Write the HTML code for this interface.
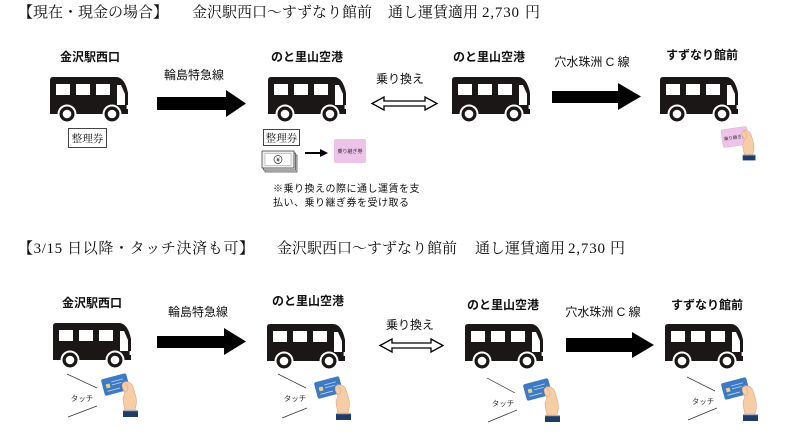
<!DOCTYPE html>
<html><head><meta charset="utf-8"><style>
html,body{margin:0;padding:0;background:#fff;}
svg{display:block;}
.t{font-family:"Liberation Serif","Noto Serif CJK SC",serif;font-size:15px;fill:#111;}
.s{font-family:"Liberation Sans","Noto Sans CJK JP",sans-serif;font-size:12px;fill:#111;}
.b{font-weight:bold;}
.n{font-family:"Liberation Sans","Noto Sans CJK JP",sans-serif;font-size:10px;fill:#111;letter-spacing:0.5px;}
.k{font-family:"Liberation Serif","Noto Serif CJK SC",serif;font-size:10.5px;fill:#111;}
.tc{font-family:"Liberation Sans","Noto Sans CJK JP",sans-serif;font-size:7.5px;fill:#333;}
</style></head><body>
<svg width="805" height="447" viewBox="0 0 805 447" xmlns="http://www.w3.org/2000/svg">
<defs>
<g id="bus">
 <path d="M0,3 Q0,0 3,0 L66,0 C72,0 76,6 78,16 L78,37 L0,37 Z" fill="#1b1717"/>
 <rect x="6" y="7" width="14" height="11" fill="#fff"/>
 <rect x="26" y="7" width="14" height="11" fill="#fff"/>
 <rect x="46" y="7" width="14" height="11" fill="#fff"/>
 <path d="M67,8 L71,8 L75,17 L75,28 L67,28 Z" fill="#fff"/>
 <rect x="76.6" y="28" width="1.4" height="4" fill="#fff"/>
 <circle cx="17" cy="37" r="9.5" fill="#fff"/>
 <circle cx="62" cy="37" r="9.5" fill="#fff"/>
 <circle cx="17" cy="37" r="7.5" fill="#1b1717"/>
 <circle cx="62" cy="37" r="7.5" fill="#1b1717"/>
 <circle cx="17" cy="37" r="4.3" fill="#fff"/>
 <circle cx="62" cy="37" r="4.3" fill="#fff"/>
</g>
<g id="hand">
 <path d="M23,9 C27,8 31,10 32,14 L35,24 C36,29 35,33 34,37 L24,37 C23,33 22,29 22,25 L24,20 C22,18 21,14 23,9 Z" fill="#f6cda5" stroke="#dba67e" stroke-width="0.6"/>
 <ellipse cx="24" cy="14" rx="2.6" ry="4.5" fill="#f6cda5" stroke="#dba67e" stroke-width="0.5" transform="rotate(-20 24 14)"/>
 <rect x="22" y="37" width="15" height="7" fill="#1f3c66"/>
 <rect x="22" y="37" width="15" height="1.2" fill="#fff" opacity="0.6"/>
</g>
<g id="touch">
 <g transform="rotate(-15 14.5 11.5)">
  <rect x="1.5" y="3" width="26" height="17" rx="2" fill="#3c7ac6"/>
  <rect x="5" y="9" width="4" height="4" fill="#e6d47a"/>
  <line x1="11" y1="8" x2="23" y2="8" stroke="#bcd5f0" stroke-width="0.8"/>
  <line x1="11" y1="11" x2="21" y2="11" stroke="#bcd5f0" stroke-width="0.8"/>
  <line x1="5" y1="16" x2="18" y2="16" stroke="#bcd5f0" stroke-width="0.8"/>
 </g>
 <use href="#hand"/>
</g>
</defs>

<!-- Title 1 -->
<text class="t" x="18" y="17" textLength="150" lengthAdjust="spacing">【現在・現金の場合】</text>
<text class="t" x="192" y="17" textLength="180" lengthAdjust="spacing">金沢駅西口～すずなり館前</text>
<text class="t" x="388" y="17" textLength="90" lengthAdjust="spacing">通し運賃適用</text>
<text class="t" x="482" y="17" textLength="37" lengthAdjust="spacing">2,730</text>
<text class="t" x="525" y="17">円</text>

<!-- Row 1 labels -->
<text class="s b" x="90" y="61" text-anchor="middle">金沢駅西口</text>
<text class="s b" x="307" y="61" text-anchor="middle">のと里山空港</text>
<text class="s b" x="489" y="61" text-anchor="middle">のと里山空港</text>
<text class="s b" x="702" y="59" text-anchor="middle">すずなり館前</text>
<text class="s" x="194" y="79" text-anchor="middle">輪島特急線</text>
<text class="s" x="400" y="83" text-anchor="middle">乗り換え</text>
<text class="s" x="592" y="66" text-anchor="middle">穴水珠洲 C 線</text>

<!-- Row 1 buses -->
<use href="#bus" x="50" y="77"/>
<use href="#bus" x="268" y="77"/>
<use href="#bus" x="452" y="77"/>
<use href="#bus" x="660" y="77"/>

<!-- Row 1 arrows -->
<path d="M157,97 L226,97 L226,90 L246,103.5 L226,117 L226,110 L157,110 Z" fill="#000"/>
<path d="M372,103.5 L384,97 L384,101 L425,101 L425,97 L437,103.5 L425,110 L425,106 L384,106 L384,110 Z" fill="#fff" stroke="#000" stroke-width="1.3"/>
<path d="M552,91 L618,91 L618,83 L641,96.5 L618,110 L618,103 L552,103 Z" fill="#000"/>

<!-- Row 1 tickets -->
<rect x="68.5" y="128.5" width="38" height="19" fill="#fff" stroke="#444" stroke-width="1"/>
<text class="k" x="87.5" y="142" text-anchor="middle">整理券</text>
<rect x="263.5" y="129.5" width="36" height="16" fill="#fff" stroke="#444" stroke-width="1"/>
<text class="k" x="281.5" y="141.5" text-anchor="middle">整理券</text>

<!-- money stack -->
<rect x="265" y="155" width="32" height="17" fill="#d8d8d8" stroke="#555" stroke-width="0.8"/>
<rect x="263.5" y="153" width="32" height="17" fill="#e2e2e2" stroke="#555" stroke-width="0.8"/>
<rect x="262" y="151" width="32" height="17" fill="#efefef" stroke="#444" stroke-width="0.8"/>
<rect x="265" y="153.5" width="26" height="12" fill="#fff" stroke="#999" stroke-width="0.5"/>
<circle cx="278" cy="159.5" r="4" fill="#fff" stroke="#333" stroke-width="0.7"/>
<text x="278" y="162" text-anchor="middle" font-family="Liberation Sans, sans-serif" font-size="6" fill="#222">¥</text>
<line x1="305" y1="153" x2="321" y2="153" stroke="#000" stroke-width="2"/>
<path d="M320,149 L328,153 L320,157 Z" fill="#000"/>
<rect x="334" y="139" width="32" height="24" rx="2" fill="#eec3e9"/>
<text x="350" y="153" text-anchor="middle" font-family="Liberation Sans, Noto Sans CJK JP, sans-serif" font-size="5" fill="#333">乗り継ぎ券</text>

<text class="n" x="273" y="192">※乗り換えの際に通し運賃を支</text>
<text class="n" x="273" y="206">払い、乗り継ぎ券を受け取る</text>

<!-- pink card at destination -->
<g transform="rotate(-8 735 137)">
 <rect x="722" y="128" width="26" height="18" rx="1.5" fill="#eec3e9" stroke="#d8a8d4" stroke-width="0.4"/>
 <text x="735" y="139" text-anchor="middle" font-family="Liberation Sans, Noto Sans CJK JP, sans-serif" font-size="4.5" fill="#333">乗り継ぎ券</text>
</g>
<g transform="translate(724,123) scale(0.85)"><use href="#hand"/></g>

<!-- Title 2 -->
<text class="t" x="18" y="253" textLength="236" lengthAdjust="spacing">【3/15 日以降・タッチ決済も可】</text>
<text class="t" x="277" y="253" textLength="180" lengthAdjust="spacing">金沢駅西口～すずなり館前</text>
<text class="t" x="475" y="253" textLength="90" lengthAdjust="spacing">通し運賃適用</text>
<text class="t" x="568" y="253" textLength="37" lengthAdjust="spacing">2,730</text>
<text class="t" x="610" y="253">円</text>

<!-- Row 2 labels -->
<text class="s b" x="92" y="307" text-anchor="middle">金沢駅西口</text>
<text class="s b" x="308" y="305" text-anchor="middle">のと里山空港</text>
<text class="s b" x="503" y="309" text-anchor="middle">のと里山空港</text>
<text class="s b" x="707" y="309" text-anchor="middle">すずなり館前</text>
<text class="s" x="198" y="316" text-anchor="middle">輪島特急線</text>
<text class="s" x="410" y="329" text-anchor="middle">乗り換え</text>
<text class="s" x="603" y="316" text-anchor="middle">穴水珠洲 C 線</text>

<!-- Row 2 buses -->
<use href="#bus" x="53" y="323"/>
<use href="#bus" x="267" y="324"/>
<use href="#bus" x="465" y="324"/>
<use href="#bus" x="665" y="324"/>

<!-- Row 2 arrows -->
<path d="M157,336 L224,336 L224,328 L246,341.5 L224,355 L224,348 L157,348 Z" fill="#000"/>
<path d="M380,345.5 L392,339 L392,343 L431,343 L431,339 L443,345.5 L431,352 L431,348 L392,348 L392,352 Z" fill="#fff" stroke="#000" stroke-width="1.3"/>
<path d="M566,338 L632,338 L632,332 L654,345 L632,358 L632,352 L566,352 Z" fill="#000"/>

<!-- Touch groups -->
<g stroke="#333" stroke-width="0.7">
 <line x1="67" y1="374" x2="97" y2="388"/><line x1="68" y1="417" x2="97" y2="406"/>
 <line x1="278" y1="374" x2="306" y2="388"/><line x1="282" y1="418" x2="307" y2="408"/>
 <line x1="487" y1="378" x2="515" y2="393"/><line x1="488" y1="422" x2="517" y2="410"/>
 <line x1="687" y1="377" x2="715" y2="391"/><line x1="688" y1="420" x2="717" y2="408"/>
</g>
<text class="tc" x="82" y="401" text-anchor="middle">タッチ</text>
<text class="tc" x="295" y="401" text-anchor="middle">タッチ</text>
<text class="tc" x="503" y="406" text-anchor="middle">タッチ</text>
<text class="tc" x="703" y="404" text-anchor="middle">タッチ</text>

<use href="#touch" x="101" y="373"/>
<use href="#touch" x="314" y="376"/>
<use href="#touch" x="523" y="378"/>
<use href="#touch" x="721" y="377"/>
</svg>
</body></html>
